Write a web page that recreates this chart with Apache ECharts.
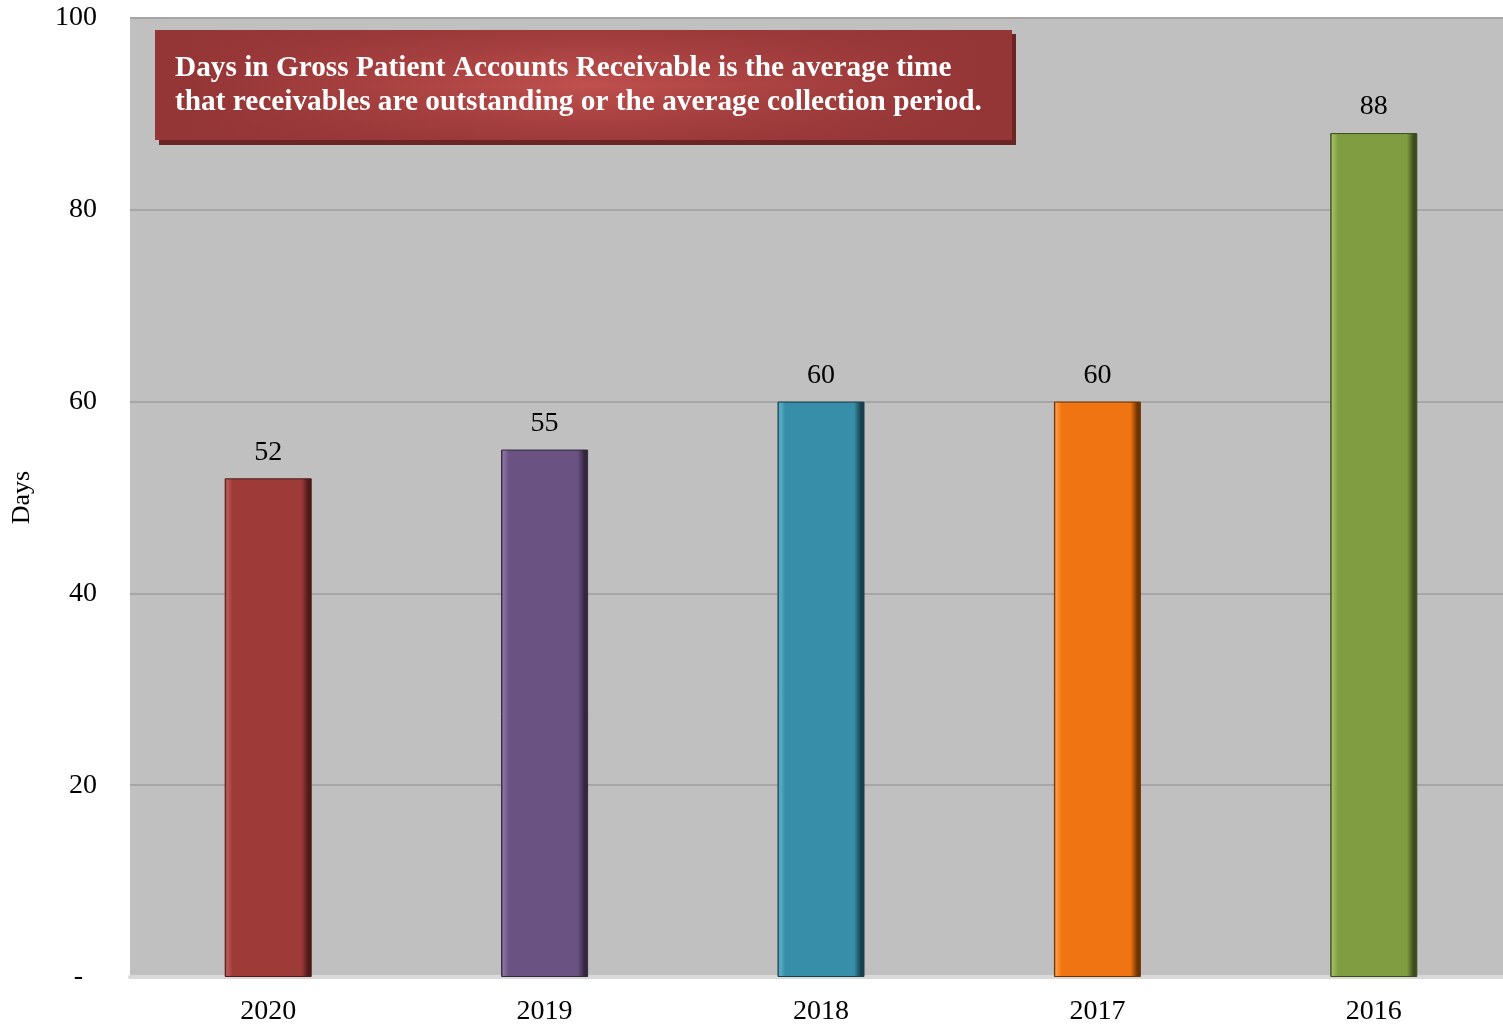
<!DOCTYPE html>
<html>
<head>
<meta charset="utf-8">
<script src="https://cdn.jsdelivr.net/npm/echarts@6/dist/echarts.min.js"></script>
<style>
  html, body { margin: 0; padding: 0; background: #ffffff; }
  #chart { width: 1503px; height: 1027px; }
</style>
</head>
<body>
<div id="chart"></div>
<script>
// 年（横軸のカテゴリ）
const years = ['2020', '2019', '2018', '2017', '2016'];

// 各年の日数
const days = [52, 55, 60, 60, 88];

// 棒の色（基本色・明るい色・暗い色）
const baseColors = ['#9e3b39', '#6a5283', '#378ea8', '#f07512', '#809d42'];
const lightColors = ['#c05a57', '#8a74a3', '#5bb0c8', '#ff9a44', '#a0bd62'];
const darkColors = ['#4f1b1a', '#33273f', '#183f4b', '#6e3303', '#3c4a1e'];

// 縦軸の目盛り
const yTicks = [0, 20, 40, 60, 80, 100];

// 注記のテキスト
const noteLines = [
  'Days in Gross Patient Accounts Receivable is the average time',
  'that receivables are outstanding or the average collection period.'
];

const chart = echarts.init(document.getElementById('chart'));

const fontFamily = '"Liberation Serif", "Times New Roman", serif';

// 各棒に立体感のあるグラデーションをつける
const barData = days.map((v, i) => ({
  value: v,
  itemStyle: {
    color: new echarts.graphic.LinearGradient(0, 0, 1, 0, [
      { offset: 0, color: darkColors[i] },
      { offset: 0.025, color: lightColors[i] },
      { offset: 0.09, color: baseColors[i] },
      { offset: 0.88, color: baseColors[i] },
      { offset: 0.96, color: darkColors[i] },
      { offset: 1, color: darkColors[i] }
    ]),
    borderColor: darkColors[i],
    borderWidth: 1
  }
}));

const option = {
  animation: false,
  grid: {
    left: 130,
    right: -9,
    top: 18,
    bottom: 50,
    outerBoundsMode: 'none',
    containLabel: false,
    show: true,
    backgroundColor: '#c0c0c0',
    borderWidth: 0
  },
  xAxis: {
    type: 'category',
    data: years,
    axisLine: { show: true, lineStyle: { color: '#d9d9d9', width: 4 } },
    axisTick: { show: false },
    axisLabel: {
      color: '#000',
      fontFamily: fontFamily,
      fontSize: 28,
      margin: 21
    }
  },
  yAxis: {
    type: 'value',
    min: yTicks[0],
    max: yTicks[yTicks.length - 1],
    interval: 20,
    name: 'Days',
    nameLocation: 'middle',
    nameGap: 95,
    nameTextStyle: { color: '#000', fontFamily: fontFamily, fontSize: 26 },
    axisLine: { show: false },
    axisTick: { show: false },
    axisLabel: {
      color: '#000',
      fontFamily: fontFamily,
      fontSize: 28,
      margin: 33,
      // 0 は会計表示のように「-」で表す
      formatter: v => (v === 0 ? '-  ' : String(v))
    },
    splitLine: { lineStyle: { color: '#a6a6a6', width: 2 } }
  },
  graphic: [
    {
      type: 'rect',
      left: 159,
      top: 34,
      shape: { width: 857, height: 111 },
      style: { fill: '#6a2524' },
      z: 10
    },
    {
      type: 'rect',
      left: 155,
      top: 30,
      shape: { width: 857, height: 110 },
      style: {
        fill: new echarts.graphic.RadialGradient(0.5, 0.5, 3.6, [
          { offset: 0, color: '#c0504e' },
          { offset: 1, color: '#943536' }
        ])
      },
      z: 11
    },
    {
      type: 'rect',
      left: 155,
      top: 30,
      shape: { width: 857, height: 110 },
      style: {
        fill: new echarts.graphic.LinearGradient(0, 0, 0, 1, [
          { offset: 0, color: 'rgba(148,53,54,0.75)' },
          { offset: 0.5, color: 'rgba(148,53,54,0)' },
          { offset: 1, color: 'rgba(148,53,54,0.75)' }
        ])
      },
      z: 12
    },
    {
      type: 'text',
      left: 175,
      top: 51,
      style: {
        text: noteLines.join('\n'),
        fill: '#ffffff',
        font: 'bold 29.3px ' + fontFamily,
        lineHeight: 34
      },
      z: 13
    }
  ],
  series: [
    {
      type: 'bar',
      data: barData,
      barWidth: 87,
      label: {
        show: true,
        position: 'top',
        distance: 12,
        color: '#000',
        fontFamily: fontFamily,
        fontSize: 28
      }
    }
  ]
};

chart.setOption(option);
</script>
</body>
</html>
